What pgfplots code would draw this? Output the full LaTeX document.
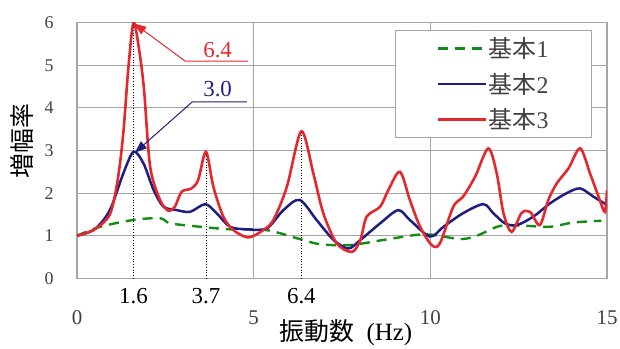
\documentclass[border=0pt]{standalone}
\usepackage{pgfplots}
\pgfplotsset{compat=1.18}
\usetikzlibrary{arrows.meta}
\usepackage{fontspec}
\setmainfont{Liberation Serif}
\newfontfamily\cjk{Noto Sans CJK JP}
\definecolor{cred}{RGB}{228,40,45}
\definecolor{cblue}{RGB}{30,30,130}
\definecolor{cgreen}{RGB}{20,140,20}
\definecolor{cgrid}{RGB}{165,165,165}
\begin{document}
\begin{tikzpicture}
\path[use as bounding box] (-77bp,-70.7bp) rectangle (543bp,278.3bp);
\begin{axis}[
  scale only axis, width=530bp, height=255.6bp,
  xmin=0, xmax=15, ymin=0, ymax=6,
  xtick={0,5,10,15}, ytick={0,1,2,3,4,5,6},
  grid=major, major grid style={cgrid, line width=1.2bp},
  axis line style={cgrid, line width=1.2bp},
  major tick length=0pt,
  clip mode=individual,
  /pgf/number format/assume math mode=true,
  xticklabel style={font=\fontsize{21}{21}\selectfont, anchor=center, yshift=-39bp, text=black!75},
  yticklabel style={font=\fontsize{18}{18}\selectfont, anchor=center, xshift=-28bp, text=black!75},
  legend style={at={(axis description cs:0.972,0.971)}, anchor=north east,
    draw=cgrid, line width=1.2bp, inner xsep=41bp, inner ysep=5bp,
    font=\fontsize{24}{26}\selectfont, text=black!75, row sep=10bp,
    /tikz/every even column/.append style={column sep=2bp}},
  legend cell align=left,
  legend image code/.code={\draw[#1] (0bp,0bp) -- (48bp,0bp);},
]
\addplot[cgreen, line width=2.4bp, dash pattern=on 10bp off 7bp, smooth, tension=0.5] coordinates {
(0,1.0) (0.66,1.21) (1.6,1.37) (2.35,1.41) (2.64,1.29) (3.48,1.21) (4.33,1.15) (5.37,1.13)
(6.31,0.92) (6.88,0.8) (7.72,0.78) (8.67,0.9) (9.61,1.02) (10.09,1.02) (10.85,0.92) (11.32,1.0)
(11.98,1.23) (12.74,1.23) (13.39,1.21) (14.05,1.31) (14.84,1.35)};
\addlegendentry{{\cjk 基本}1}
\addplot[cblue, line width=2.5bp, smooth, tension=0.5] coordinates {
(0,1.0) (0.5,1.15) (0.93,1.6) (1.31,2.46) (1.6,2.97) (1.88,2.7) (2.17,2.07) (2.45,1.68)
(2.83,1.6) (3.2,1.56) (3.63,1.74) (3.95,1.53) (4.33,1.21) (4.8,1.15) (5.37,1.17) (5.84,1.6)
(6.3,1.84) (6.78,1.37) (7.26,0.9) (7.68,0.7) (8.02,0.9) (8.58,1.29) (9.09,1.6) (9.42,1.37)
(9.99,0.98) (10.37,1.21) (10.93,1.53) (11.5,1.74) (11.78,1.53) (12.11,1.29) (12.45,1.25)
(12.92,1.45) (13.39,1.76) (13.86,2.0) (14.24,2.11) (14.61,1.92) (15,1.72)};
\addlegendentry{{\cjk 基本}2}
\addplot[cred, line width=2.6bp, smooth, tension=0.5] coordinates {
(0,1.0) (0.5,1.15) (0.93,1.5) (1.15,2.3) (1.31,3.4) (1.45,4.9) (1.6,6.0) (1.77,5.3) (1.9,4.4)
(2.07,2.62) (2.35,1.84) (2.58,1.59) (2.77,1.68) (2.96,2.03) (3.24,2.11) (3.43,2.31) (3.65,2.97)
(3.86,2.15) (4.14,1.45) (4.43,1.13) (4.85,0.96) (5.27,1.13) (5.56,1.37) (5.94,2.15) (6.35,3.45)
(6.69,2.46) (6.97,1.53) (7.35,0.82) (7.78,0.62) (8.02,0.9) (8.2,1.45) (8.58,1.68) (8.81,2.07)
(9.14,2.5) (9.42,1.84) (9.71,1.21) (10.04,0.78) (10.27,0.82) (10.65,1.68) (10.93,1.92)
(11.27,2.39) (11.64,3.05) (11.88,2.46) (12.07,1.53) (12.3,1.09) (12.58,1.53) (12.82,1.56)
(13.1,1.25) (13.34,1.84) (13.58,2.23) (13.91,2.58) (14.24,3.05) (14.52,2.46) (14.76,1.92)
(14.94,1.56) (15,2.07)};
\addlegendentry{{\cjk 基本}3}
% dotted guide lines
\draw[black, dotted, line width=0.7bp] (axis cs:1.6,0) -- (axis cs:1.6,6);
\draw[black, dotted, line width=0.7bp] (axis cs:3.65,0) -- (axis cs:3.65,2.97);
\draw[black, dotted, line width=0.7bp] (axis cs:6.35,0) -- (axis cs:6.35,3.45);
% annotations
\draw[cred, line width=1bp, -{Triangle[length=12bp,width=9bp]}] (axis cs:4.84,5.1) -- (axis cs:3.06,5.1) -- (axis cs:1.62,5.98);
\draw[cblue, line width=1bp, -{Triangle[length=12bp,width=9bp]}] (axis cs:4.81,4.14) -- (axis cs:3.26,4.14) -- (axis cs:1.64,2.95);
\node[cred, font=\fontsize{23}{23}\selectfont] at (axis cs:3.98,5.36) {6.4};
\node[cblue, font=\fontsize{23}{23}\selectfont] at (axis cs:3.98,4.44) {3.0};
% special tick labels
\node[font=\fontsize{23}{23}\selectfont, yshift=-18bp] at (axis cs:1.6,0) {1.6};
\node[font=\fontsize{23}{23}\selectfont, yshift=-18bp] at (axis cs:3.65,0) {3.7};
\node[font=\fontsize{23}{23}\selectfont, yshift=-18bp] at (axis cs:6.35,0) {6.4};
% axis labels
\node[font=\fontsize{25}{25}\selectfont, yshift=-54bp] at (axis description cs:0.5075,0) {{\cjk 振動数}\hspace{12bp}(Hz)};
\node[font=\fontsize{25}{25}\selectfont, rotate=90] at ([xshift=-54.5bp]axis description cs:0,0.537) {\cjk 増幅率};
\end{axis}
\end{tikzpicture}
\end{document}
